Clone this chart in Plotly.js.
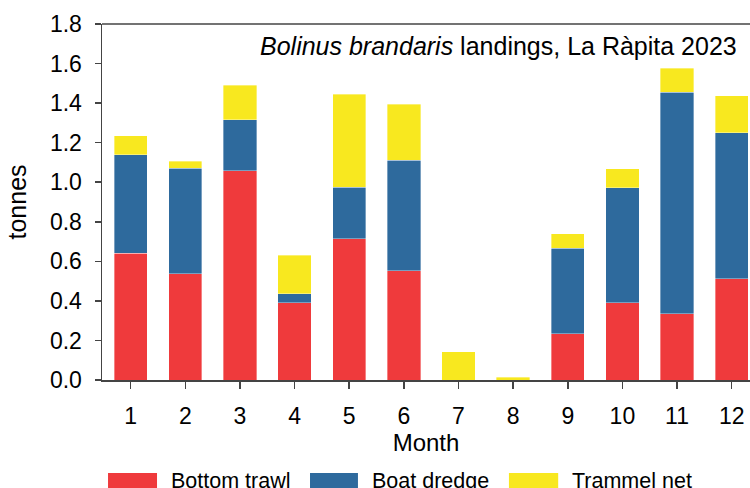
<!DOCTYPE html>
<html>
<head>
<meta charset="utf-8">
<script src="https://cdn.plot.ly/plotly-3.0.1.min.js"></script>
<style>html,body{margin:0;padding:0;background:#fff;}#chart{width:750px;height:488px;}</style>
</head>
<body>
<div id="chart"></div>
<script>
const months = [1,2,3,4,5,6,7,8,9,10,11,12];
const bottomTrawl = [0.640,0.537,1.058,0.390,0.714,0.553,0,0,0.234,0.391,0.335,0.512];
const boatDredge  = [0.499,0.533,0.257,0.045,0.260,0.559,0,0,0.432,0.580,1.121,0.737];
const trammelNet  = [0.096,0.037,0.175,0.197,0.472,0.282,0.142,0.014,0.074,0.097,0.121,0.188];
const seriesNames = ['Bottom trawl','Boat dredge','Trammel net'];
const colors = ['#EF3A3C','#2E6A9D','#F8E81F'];

const FONT = 'Liberation Sans, Arial, sans-serif';
const series = [bottomTrawl, boatDredge, trammelNet];
const traces = series.map((vals,i)=>({
  type:'bar', x: months, y: vals, name: seriesNames[i],
  width: 0.61,
  marker:{color: colors[i], line:{color:'rgba(255,255,255,0.45)', width:0.8}},
  showlegend:false, hoverinfo:'x+y+name'
}));

// manual legend (swatches + labels)
const legX = [[0.0093,0.0849,0.104],[0.321,0.395,0.414],[0.628,0.704,0.7228]];
const shapes = legX.map((p,i)=>({
  type:'rect', xref:'paper', yref:'paper', x0:p[0], x1:p[1], y0:-0.315, y1:-0.2612,
  fillcolor: colors[i], line:{width:0}
}));
const annotations = legX.map((p,i)=>({
  xref:'paper', yref:'paper', x:p[2], y:-0.2837, xanchor:'left', yanchor:'middle',
  text: seriesNames[i], showarrow:false, font:{family:FONT, size:21.5, color:'#000'}
}));
annotations.push({
  xref:'paper', yref:'paper', x:0.983, y:0.938, xanchor:'right', yanchor:'middle',
  text:'<i>Bolinus brandaris</i> landings, La Ràpita 2023', showarrow:false,
  font:{family:FONT, size:25, color:'#000'}
});

const layout = {
  width:750, height:488,
  margin:{l:102, r:0, t:24, b:108, pad:0},
  paper_bgcolor:'#fff', plot_bgcolor:'#fff',
  barmode:'stack',
  font:{family:FONT, size:23, color:'#000'},
  xaxis:{
    type:'linear', range:[0.475,12.335], tickvals: months, ticktext: months.map(String),
    showgrid:false, zeroline:false, showline:true, linecolor:'#444', linewidth:1.5,
    ticks:'outside', ticklen:7, tickwidth:1.5, tickcolor:'#444',
    ticklabelstandoff:8,
    tickfont:{family:FONT, size:23, color:'#000'},
    title:{text:'Month', font:{family:FONT, size:24, color:'#000'}, standoff:5}
  },
  yaxis:{
    range:[0,1.8], dtick:0.2, tickformat:'.1f',
    showgrid:false, zeroline:false, showline:true, linecolor:'#444', linewidth:1.5,
    ticks:'outside', ticklen:6, tickwidth:1.5, tickcolor:'#444',
    ticklabelstandoff:8,
    tickfont:{family:FONT, size:23, color:'#000'},
    title:{text:'tonnes', font:{family:FONT, size:25, color:'#000'}, standoff:16}
  },
  shapes: shapes.concat([{type:'line', xref:'paper', yref:'paper', x0:0, x1:1, y0:1, y1:1, line:{color:'#444', width:1.5}}]),
  annotations: annotations
};
Plotly.newPlot('chart', traces, layout, {displayModeBar:false, staticPlot:true});
</script>
</body>
</html>
